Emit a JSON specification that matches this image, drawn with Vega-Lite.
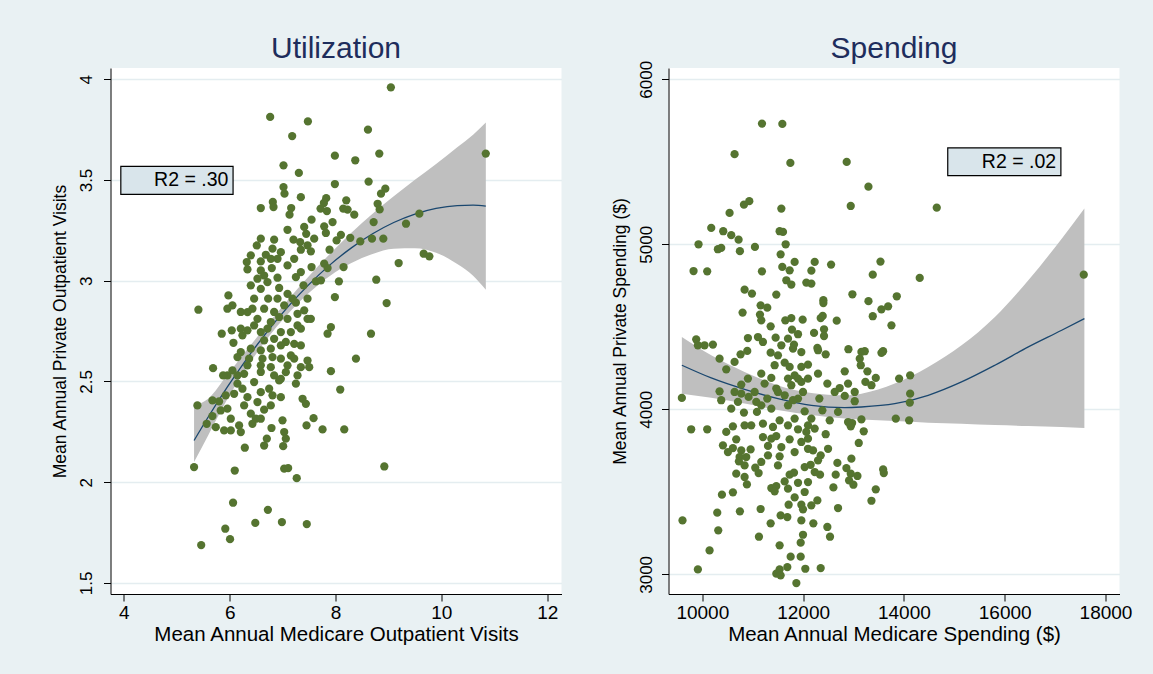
{
"$schema": "https://vega.github.io/schema/vega-lite/v6.json",
"padding": {"left": 51.5, "top": 34, "right": 24, "bottom": 36},
"spacing": 107,
"bounds": "flush",
"config": {
 "background": "#e9f1f3",
 "font": "Liberation Sans",
 "view": {"fill": "white", "stroke": null},
 "axis": {"domainColor": "black", "tickColor": "black", "tickSize": 7, "labelColor": "black", "titleColor": "black", "labelFont": "Liberation Sans", "titleFont": "Liberation Sans", "titleFontWeight": "normal", "gridColor": "#e4edf0", "gridWidth": 1.3, "domainWidth": 1, "tickWidth": 1, "labelOverlap": false, "labelFlush": false},
 "axisX": {"grid": false, "labelFontSize": 19, "titleFontSize": 20.5, "labelPadding": 2, "titlePadding": 2},
 "axisY": {"grid": true, "labelAngle": 270, "labelAlign": "center", "labelBaseline": "alphabetic", "labelFontSize": 17, "titleFontSize": 17.5, "labelPadding": 12, "titlePadding": 8},
 "title": {"fontSize": 30, "color": "#1e2d5c", "font": "Liberation Sans", "fontWeight": "normal", "frame": "group", "baseline": "alphabetic", "anchor": "middle"}
},
"datasets": {
 "util_points": [
{"x":6.765,"y":3.813},{"x":7.478,"y":3.791},{"x":7.181,"y":3.718},{"x":8.613,"y":3.750},{"x":8.827,"y":3.631},{"x":10.839,"y":3.631},{"x":7.988,"y":3.621},{"x":8.373,"y":3.598},{"x":7.017,"y":3.573},{"x":7.307,"y":3.535},{"x":7.988,"y":3.480},{"x":8.625,"y":3.492},{"x":7.017,"y":3.465},{"x":7.036,"y":3.432},{"x":7.345,"y":3.415},{"x":8.941,"y":3.457},{"x":8.859,"y":3.432},{"x":6.815,"y":3.391},{"x":6.588,"y":3.361},{"x":6.828,"y":3.366},{"x":7.162,"y":3.361},{"x":7.131,"y":3.328},{"x":7.824,"y":3.410},{"x":7.780,"y":3.386},{"x":8.203,"y":3.399},{"x":7.717,"y":3.358},{"x":7.837,"y":3.346},{"x":8.146,"y":3.358},{"x":8.228,"y":3.353},{"x":8.354,"y":3.328},{"x":8.796,"y":3.382},{"x":8.834,"y":3.354},{"x":7.944,"y":3.291},{"x":7.547,"y":3.303},{"x":7.408,"y":3.267},{"x":7.786,"y":3.270},{"x":7.446,"y":3.233},{"x":7.093,"y":3.253},{"x":7.818,"y":3.237},{"x":8.720,"y":3.291},{"x":9.584,"y":3.333},{"x":9.332,"y":3.283},{"x":8.102,"y":3.228},{"x":8.279,"y":3.213},{"x":8.020,"y":3.200},{"x":8.468,"y":3.195},{"x":8.689,"y":3.209},{"x":8.903,"y":3.209},{"x":6.840,"y":3.204},{"x":6.512,"y":3.175},{"x":7.206,"y":3.204},{"x":7.332,"y":3.192},{"x":7.887,"y":3.154},{"x":7.534,"y":3.146},{"x":7.345,"y":3.154},{"x":6.809,"y":3.159},{"x":6.967,"y":3.142},{"x":6.683,"y":3.129},{"x":6.323,"y":3.093},{"x":6.336,"y":3.056},{"x":6.588,"y":3.096},{"x":6.904,"y":3.109},{"x":7.093,"y":3.076},{"x":6.796,"y":3.063},{"x":6.588,"y":3.051},{"x":7.345,"y":3.043},{"x":7.547,"y":3.068},{"x":7.786,"y":3.085},{"x":8.152,"y":3.068},{"x":7.850,"y":3.063},{"x":9.666,"y":3.134},{"x":9.773,"y":3.121},{"x":9.193,"y":3.088},{"x":8.770,"y":3.005},{"x":8.966,"y":2.889},{"x":8.064,"y":2.997},{"x":7.629,"y":2.997},{"x":7.395,"y":2.977},{"x":7.724,"y":3.002},{"x":7.251,"y":3.018},{"x":6.904,"y":3.015},{"x":6.651,"y":3.026},{"x":6.935,"y":2.964},{"x":7.093,"y":2.935},{"x":6.588,"y":2.960},{"x":6.462,"y":2.911},{"x":6.727,"y":2.911},{"x":7.251,"y":2.891},{"x":7.471,"y":2.911},{"x":7.988,"y":2.919},{"x":5.976,"y":2.927},{"x":6.052,"y":2.878},{"x":5.957,"y":2.861},{"x":6.210,"y":2.845},{"x":6.430,"y":2.861},{"x":6.525,"y":2.811},{"x":6.840,"y":2.845},{"x":6.935,"y":2.820},{"x":7.282,"y":2.836},{"x":7.408,"y":2.853},{"x":7.471,"y":2.811},{"x":5.409,"y":2.856},{"x":7.282,"y":2.778},{"x":7.156,"y":2.745},{"x":7.913,"y":2.770},{"x":7.850,"y":2.737},{"x":8.670,"y":2.737},{"x":5.850,"y":2.737},{"x":6.039,"y":2.754},{"x":6.071,"y":2.692},{"x":6.241,"y":2.729},{"x":6.336,"y":2.754},{"x":6.588,"y":2.745},{"x":6.714,"y":2.762},{"x":6.651,"y":2.704},{"x":6.840,"y":2.712},{"x":6.967,"y":2.745},{"x":7.061,"y":2.696},{"x":7.219,"y":2.687},{"x":6.777,"y":2.663},{"x":6.588,"y":2.654},{"x":6.399,"y":2.663},{"x":6.210,"y":2.646},{"x":6.147,"y":2.621},{"x":6.367,"y":2.613},{"x":6.620,"y":2.613},{"x":6.809,"y":2.621},{"x":6.967,"y":2.613},{"x":7.156,"y":2.629},{"x":7.471,"y":2.604},{"x":7.503,"y":2.571},{"x":7.345,"y":2.571},{"x":7.282,"y":2.530},{"x":7.251,"y":2.489},{"x":7.061,"y":2.546},{"x":6.935,"y":2.505},{"x":6.588,"y":2.580},{"x":6.777,"y":2.571},{"x":6.273,"y":2.538},{"x":6.052,"y":2.555},{"x":5.957,"y":2.530},{"x":5.876,"y":2.530},{"x":5.686,"y":2.566},{"x":7.913,"y":2.551},{"x":8.386,"y":2.613},{"x":8.089,"y":2.460},{"x":6.147,"y":2.489},{"x":6.241,"y":2.464},{"x":6.336,"y":2.422},{"x":6.084,"y":2.439},{"x":5.926,"y":2.431},{"x":5.674,"y":2.406},{"x":5.800,"y":2.401},{"x":5.390,"y":2.381},{"x":5.957,"y":2.365},{"x":5.831,"y":2.356},{"x":5.674,"y":2.328},{"x":5.566,"y":2.290},{"x":5.737,"y":2.273},{"x":5.895,"y":2.257},{"x":6.021,"y":2.257},{"x":6.178,"y":2.282},{"x":6.399,"y":2.340},{"x":6.494,"y":2.315},{"x":6.651,"y":2.360},{"x":6.430,"y":2.290},{"x":6.746,"y":2.464},{"x":6.809,"y":2.431},{"x":6.967,"y":2.422},{"x":7.377,"y":2.414},{"x":7.440,"y":2.389},{"x":7.585,"y":2.318},{"x":7.452,"y":2.282},{"x":7.755,"y":2.262},{"x":8.165,"y":2.262},{"x":6.790,"y":2.269},{"x":6.998,"y":2.307},{"x":7.030,"y":2.249},{"x":7.061,"y":2.216},{"x":6.702,"y":2.216},{"x":6.651,"y":2.182},{"x":7.011,"y":2.179},{"x":6.286,"y":2.171},{"x":5.327,"y":2.075},{"x":6.096,"y":2.058},{"x":7.030,"y":2.067},{"x":7.105,"y":2.070},{"x":8.922,"y":2.078},{"x":7.267,"y":2.020},{"x":6.064,"y":1.898},{"x":6.722,"y":1.863},{"x":5.917,"y":1.769},{"x":6.484,"y":1.798},{"x":6.987,"y":1.802},{"x":7.457,"y":1.792},{"x":6.007,"y":1.717},{"x":5.462,"y":1.688},{"x":9.046,"y":3.960},
{"x":6.399,"y":2.977},{"x":6.525,"y":3.010},{"x":6.714,"y":2.993},{"x":6.336,"y":2.844},{"x":6.651,"y":2.861},{"x":7.030,"y":2.878},{"x":7.187,"y":2.911},{"x":6.904,"y":2.911},{"x":6.210,"y":2.762},{"x":6.462,"y":2.778},{"x":6.777,"y":2.795},{"x":7.093,"y":2.811},{"x":6.967,"y":2.679},{"x":7.345,"y":2.679},{"x":6.588,"y":2.547},{"x":6.840,"y":2.530},{"x":7.093,"y":2.580},{"x":6.336,"y":2.580},{"x":6.147,"y":2.530},{"x":6.462,"y":2.497},{"x":6.588,"y":2.447},{"x":6.273,"y":2.381},{"x":6.525,"y":2.398},{"x":6.777,"y":2.381},{"x":6.021,"y":2.315},{"x":6.210,"y":2.249},{"x":6.588,"y":2.315},{"x":6.967,"y":2.513},{"x":7.219,"y":2.613},{"x":6.399,"y":3.126},{"x":6.777,"y":3.109},{"x":7.219,"y":3.109},{"x":7.471,"y":3.176},{"x":7.597,"y":3.209},{"x":6.588,"y":3.209},{"x":7.345,"y":2.762},{"x":7.534,"y":2.811}
 ],
 "util_fit": [
{"x":5.327,"fit":2.207,"lo":2.100,"hi":2.380},{"x":5.6,"fit":2.326,"lo":2.236,"hi":2.416},{"x":5.957,"fit":2.473,"lo":2.413,"hi":2.533},{"x":6.3,"fit":2.604,"lo":2.559,"hi":2.649},{"x":6.7,"fit":2.744,"lo":2.709,"hi":2.779},{"x":7.1,"fit":2.870,"lo":2.835,"hi":2.905},{"x":7.5,"fit":2.982,"lo":2.940,"hi":3.024},{"x":7.9,"fit":3.080,"lo":3.025,"hi":3.135},{"x":8.3,"fit":3.163,"lo":3.088,"hi":3.238},{"x":8.7,"fit":3.233,"lo":3.133,"hi":3.333},{"x":9.1,"fit":3.289,"lo":3.159,"hi":3.419},{"x":9.5,"fit":3.331,"lo":3.161,"hi":3.501},{"x":9.9,"fit":3.359,"lo":3.139,"hi":3.579},{"x":10.3,"fit":3.373,"lo":3.083,"hi":3.663},{"x":10.6,"fit":3.375,"lo":3.025,"hi":3.725},{"x":10.84,"fit":3.370,"lo":2.955,"hi":3.785}
 ],
 "util_box": [{"x1":3.943,"x2":6.064,"y1":3.568,"y2":3.429,"tx":5.975,"ty":3.4985,"label":"R2 = .30"}],
 "spend_points": [
{"x":11184,"y":5731},{"x":11588,"y":5729},{"x":10640,"y":5546},{"x":11747,"y":5493},{"x":12865,"y":5499},{"x":13296,"y":5349},{"x":17569,"y":4816},{"x":14652,"y":5222},{"x":14314,"y":4796},
{"x":10932,"y":5261},{"x":10826,"y":5240},{"x":10541,"y":5190},{"x":11568,"y":5216},{"x":12945,"y":5232},{"x":10177,"y":5099},{"x":10415,"y":5079},{"x":10574,"y":5055},{"x":10720,"y":5028},{"x":9925,"y":5000},{"x":10309,"y":4970},{"x":10375,"y":4978},{"x":10746,"y":4958},{"x":11044,"y":4984},{"x":11534,"y":5079},{"x":11601,"y":5075},{"x":11654,"y":5000},{"x":11554,"y":4939},{"x":9826,"y":4838},{"x":10097,"y":4836},{"x":11183,"y":4836},{"x":11832,"y":4893},{"x":12230,"y":4893},{"x":12555,"y":4877},{"x":11587,"y":4863},{"x":11733,"y":4842},{"x":12164,"y":4840},{"x":13535,"y":4895},{"x":13382,"y":4816},{"x":10839,"y":4725},{"x":10985,"y":4701},{"x":11667,"y":4782},{"x":11766,"y":4756},{"x":12064,"y":4768},{"x":12164,"y":4762},{"x":11468,"y":4695},{"x":12402,"y":4661},{"x":12402,"y":4644},{"x":12978,"y":4697},{"x":13297,"y":4655},{"x":13859,"y":4685},{"x":10799,"y":4586},{"x":11157,"y":4630},{"x":11289,"y":4616},{"x":11144,"y":4574},{"x":11170,"y":4539},{"x":11356,"y":4503},{"x":11647,"y":4539},{"x":11766,"y":4553},{"x":11991,"y":4543},{"x":12349,"y":4553},{"x":12389,"y":4566},{"x":12667,"y":4537},{"x":13382,"y":4564},{"x":13554,"y":4606},{"x":13687,"y":4624},{"x":13753,"y":4509},{"x":11779,"y":4483},{"x":11899,"y":4455},{"x":12217,"y":4463},{"x":12415,"y":4485},{"x":12415,"y":4444},{"x":10905,"y":4432},{"x":11104,"y":4438},{"x":11203,"y":4408},{"x":11455,"y":4434},{"x":11568,"y":4388},{"x":11819,"y":4392},{"x":11799,"y":4368},{"x":12283,"y":4372},{"x":12296,"y":4358},{"x":12448,"y":4333},{"x":12899,"y":4364},{"x":13157,"y":4348},{"x":13223,"y":4352},{"x":13124,"y":4307},{"x":13587,"y":4352},{"x":13554,"y":4342},{"x":9879,"y":4424},{"x":9912,"y":4388},{"x":10044,"y":4388},{"x":10210,"y":4392},{"x":10342,"y":4307},{"x":10759,"y":4333},{"x":10892,"y":4354},{"x":10640,"y":4287},{"x":10475,"y":4242},{"x":11356,"y":4343},{"x":11501,"y":4327},{"x":11634,"y":4283},{"x":11733,"y":4257},{"x":11832,"y":4206},{"x":11965,"y":4257},{"x":12097,"y":4271},{"x":12296,"y":4216},{"x":12826,"y":4230},{"x":13144,"y":4267},{"x":13276,"y":4230},{"x":13236,"y":4166},{"x":13442,"y":4190},{"x":13356,"y":4146},{"x":13905,"y":4186},{"x":14124,"y":4206},{"x":14124,"y":4095},{"x":14117,"y":4041},{"x":14104,"y":3933},{"x":13839,"y":3944},{"x":13157,"y":3939},{"x":12972,"y":3917},{"x":12945,"y":3897},{"x":13203,"y":3867},{"x":13024,"y":4049},{"x":12826,"y":4081},{"x":13024,"y":4105},{"x":12892,"y":4156},{"x":12726,"y":4129},{"x":12481,"y":4156},{"x":12322,"y":4065},{"x":12382,"y":3994},{"x":12528,"y":3933},{"x":12448,"y":3849},{"x":11998,"y":4105},{"x":12031,"y":3988},{"x":12097,"y":3903},{"x":12230,"y":3883},{"x":12064,"y":3863},{"x":11899,"y":4065},{"x":11799,"y":4055},{"x":11700,"y":4024},{"x":11634,"y":4085},{"x":11766,"y":4146},{"x":11899,"y":4186},{"x":11369,"y":4190},{"x":11468,"y":4126},{"x":11236,"y":4156},{"x":11289,"y":4065},{"x":11170,"y":4024},{"x":11071,"y":4045},{"x":10918,"y":4075},{"x":10773,"y":4095},{"x":10773,"y":4150},{"x":10342,"y":4109},{"x":10375,"y":4055},{"x":10574,"y":4004},{"x":10707,"y":4045},{"x":10826,"y":3980},{"x":11084,"y":3984},{"x":11203,"y":3913},{"x":11534,"y":3933},{"x":11402,"y":3893},{"x":11700,"y":3903},{"x":11899,"y":3879},{"x":11369,"y":3822},{"x":10971,"y":3903},{"x":10839,"y":3903},{"x":10607,"y":3897},{"x":10475,"y":3863},{"x":10097,"y":3879},{"x":9779,"y":3879},{"x":9594,"y":4069},
{"x":10673,"y":3818},{"x":11203,"y":3832},{"x":11468,"y":3838},{"x":11733,"y":3818},{"x":12097,"y":3822},{"x":10409,"y":3782},{"x":10607,"y":3765},{"x":10773,"y":3751},{"x":10958,"y":3757},{"x":11303,"y":3778},{"x":11568,"y":3771},{"x":11303,"y":3721},{"x":11534,"y":3715},{"x":10740,"y":3711},{"x":10872,"y":3711},{"x":10726,"y":3685},{"x":12097,"y":3761},{"x":12197,"y":3751},{"x":12349,"y":3721},{"x":12296,"y":3691},{"x":12150,"y":3664},{"x":12031,"y":3650},{"x":13104,"y":3796},{"x":12680,"y":3675},{"x":12958,"y":3701},{"x":12859,"y":3644},{"x":12945,"y":3610},{"x":13078,"y":3596},{"x":12912,"y":3569},{"x":12998,"y":3543},{"x":13588,"y":3636},{"x":13601,"y":3614},{"x":13442,"y":3515},{"x":13356,"y":3446},{"x":12336,"y":3604},{"x":12647,"y":3604},{"x":12601,"y":3527},{"x":11051,"y":3646},{"x":11117,"y":3614},{"x":10673,"y":3610},{"x":10839,"y":3590},{"x":10885,"y":3545},{"x":10389,"y":3483},{"x":10607,"y":3497},{"x":11369,"y":3523},{"x":11468,"y":3535},{"x":11435,"y":3503},{"x":11634,"y":3563},{"x":11733,"y":3604},{"x":11819,"y":3616},{"x":11899,"y":3555},{"x":12097,"y":3559},{"x":12031,"y":3499},{"x":11832,"y":3466},{"x":11713,"y":3422},{"x":11965,"y":3422},{"x":11998,"y":3394},{"x":12163,"y":3418},{"x":12283,"y":3448},{"x":12693,"y":3402},{"x":10296,"y":3374},{"x":10746,"y":3382},{"x":11157,"y":3396},{"x":11554,"y":3357},{"x":11687,"y":3347},{"x":11965,"y":3327},{"x":12203,"y":3309},{"x":12481,"y":3287},{"x":12534,"y":3228},{"x":11998,"y":3240},{"x":11952,"y":3192},{"x":11356,"y":3309},{"x":9607,"y":3327},{"x":10316,"y":3267},{"x":11124,"y":3228},{"x":11534,"y":3176},{"x":10144,"y":3145},{"x":11753,"y":3107},{"x":11952,"y":3107},{"x":9912,"y":3030},{"x":11534,"y":3030},{"x":11687,"y":3044},{"x":11468,"y":3004},{"x":11554,"y":2994},{"x":12044,"y":3034},{"x":12349,"y":3038},{"x":11866,"y":2947},
{"x":11700,"y":4186},{"x":11501,"y":4105},{"x":11965,"y":4166},{"x":11369,"y":4004},{"x":11832,"y":3944},{"x":12164,"y":3944},{"x":10905,"y":4186},{"x":11170,"y":4216},{"x":12627,"y":4105},{"x":12693,"y":3984},{"x":12892,"y":3923},{"x":11038,"y":4105},{"x":10640,"y":4105},{"x":11435,"y":4267},{"x":11965,"y":4347},{"x":11700,"y":4428},{"x":12097,"y":4186},{"x":11965,"y":3802},{"x":11832,"y":3741},{"x":12230,"y":3620},{"x":11501,"y":3660},{"x":11170,"y":3681},{"x":12495,"y":3761},{"x":11700,"y":3519},{"x":10839,"y":3660},{"x":10508,"y":3741}
 ],
 "spend_fit": [
{"x":9594,"fit":4267,"lo":4095,"hi":4438},{"x":10177,"fit":4190,"lo":4070,"hi":4327},{"x":10839,"fit":4121,"lo":4035,"hi":4226},{"x":11501,"fit":4065,"lo":3996,"hi":4145},{"x":12164,"fit":4024,"lo":3966,"hi":4099},{"x":12826,"fit":4010,"lo":3944,"hi":4085},{"x":13157,"fit":4014,"lo":3938,"hi":4095},{"x":13819,"fit":4034,"lo":3929,"hi":4156},{"x":14482,"fit":4085,"lo":3919,"hi":4257},{"x":15144,"fit":4166,"lo":3913,"hi":4388},{"x":15806,"fit":4267,"lo":3905,"hi":4560},{"x":16469,"fit":4378,"lo":3899,"hi":4782},{"x":17131,"fit":4479,"lo":3893,"hi":5034},{"x":17581,"fit":4550,"lo":3887,"hi":5216}
 ],
 "spend_box": [{"x1":14870,"x2":17115,"y1":5584,"y2":5416,"tx":17020,"ty":5500,"label":"R2 = .02"}]
},
"hconcat": [
 {
  "width": 451, "height": 526,
  "title": {"text": "Utilization", "offset": 4},
  "layer": [
   {"data": {"name": "util_fit"}, "mark": {"type": "area", "color": "#bfbfbf", "interpolate": "monotone"},
    "encoding": {
     "x": {"field": "x", "type": "quantitative", "title": "Mean Annual Medicare Outpatient Visits", "scale": {"domain": [3.748, 12.27], "nice": false, "zero": false}, "axis": {"values": [4, 6, 8, 10, 12], "format": "~g"}},
     "y": {"field": "lo", "type": "quantitative", "title": "Mean Annual Private Outpatient Visits", "scale": {"domain": [1.445, 4.056], "nice": false, "zero": false}, "axis": {"values": [1.5, 2, 2.5, 3, 3.5, 4], "format": "~g"}},
     "y2": {"field": "hi"}}},
   {"data": {"name": "util_fit"}, "mark": {"type": "line", "color": "#1a476f", "strokeWidth": 1.3, "interpolate": "monotone"},
    "encoding": {
     "x": {"field": "x", "type": "quantitative", "title": "Mean Annual Medicare Outpatient Visits"},
     "y": {"field": "fit", "type": "quantitative", "title": "Mean Annual Private Outpatient Visits"}}},
   {"data": {"name": "util_points"}, "mark": {"type": "circle", "color": "#557430", "opacity": 1, "size": 68},
    "encoding": {
     "x": {"field": "x", "type": "quantitative", "title": "Mean Annual Medicare Outpatient Visits"},
     "y": {"field": "y", "type": "quantitative", "title": "Mean Annual Private Outpatient Visits"}}},
   {"data": {"name": "util_box"}, "mark": {"type": "rect", "fill": "#d9e5eb", "stroke": "black", "strokeWidth": 1.2},
    "encoding": {
     "x": {"field": "x1", "type": "quantitative", "title": "Mean Annual Medicare Outpatient Visits"}, "x2": {"field": "x2"},
     "y": {"field": "y1", "type": "quantitative", "title": "Mean Annual Private Outpatient Visits"}, "y2": {"field": "y2"}}},
   {"data": {"name": "util_box"}, "mark": {"type": "text", "align": "right", "baseline": "middle", "fontSize": 19.5, "font": "Liberation Sans", "color": "black"},
    "encoding": {
     "x": {"field": "tx", "type": "quantitative", "title": "Mean Annual Medicare Outpatient Visits"},
     "y": {"field": "ty", "type": "quantitative", "title": "Mean Annual Private Outpatient Visits"},
     "text": {"field": "label", "type": "nominal"}}}
  ]
 },
 {
  "width": 451, "height": 526,
  "title": {"text": "Spending", "offset": -4},
  "layer": [
   {"data": {"name": "spend_fit"}, "mark": {"type": "area", "color": "#bfbfbf", "interpolate": "monotone"},
    "encoding": {
     "x": {"field": "x", "type": "quantitative", "title": "Mean Annual Medicare Spending ($)", "scale": {"domain": [9329, 18278], "nice": false, "zero": false}, "axis": {"values": [10000, 12000, 14000, 16000, 18000], "format": "d"}},
     "y": {"field": "lo", "type": "quantitative", "title": "Mean Annual Private Spending ($)", "scale": {"domain": [2881, 6068], "nice": false, "zero": false}, "axis": {"values": [3000, 4000, 5000, 6000], "format": "d", "labelPadding": 10}},
     "y2": {"field": "hi"}}},
   {"data": {"name": "spend_fit"}, "mark": {"type": "line", "color": "#1a476f", "strokeWidth": 1.3, "interpolate": "monotone"},
    "encoding": {
     "x": {"field": "x", "type": "quantitative", "title": "Mean Annual Medicare Spending ($)"},
     "y": {"field": "fit", "type": "quantitative", "title": "Mean Annual Private Spending ($)"}}},
   {"data": {"name": "spend_points"}, "mark": {"type": "circle", "color": "#557430", "opacity": 1, "size": 68},
    "encoding": {
     "x": {"field": "x", "type": "quantitative", "title": "Mean Annual Medicare Spending ($)"},
     "y": {"field": "y", "type": "quantitative", "title": "Mean Annual Private Spending ($)"}}},
   {"data": {"name": "spend_box"}, "mark": {"type": "rect", "fill": "#d9e5eb", "stroke": "black", "strokeWidth": 1.2},
    "encoding": {
     "x": {"field": "x1", "type": "quantitative", "title": "Mean Annual Medicare Spending ($)"}, "x2": {"field": "x2"},
     "y": {"field": "y1", "type": "quantitative", "title": "Mean Annual Private Spending ($)"}, "y2": {"field": "y2"}}},
   {"data": {"name": "spend_box"}, "mark": {"type": "text", "align": "right", "baseline": "middle", "fontSize": 19.5, "font": "Liberation Sans", "color": "black"},
    "encoding": {
     "x": {"field": "tx", "type": "quantitative", "title": "Mean Annual Medicare Spending ($)"},
     "y": {"field": "ty", "type": "quantitative", "title": "Mean Annual Private Spending ($)"},
     "text": {"field": "label", "type": "nominal"}}}
  ]
 }
]
}
